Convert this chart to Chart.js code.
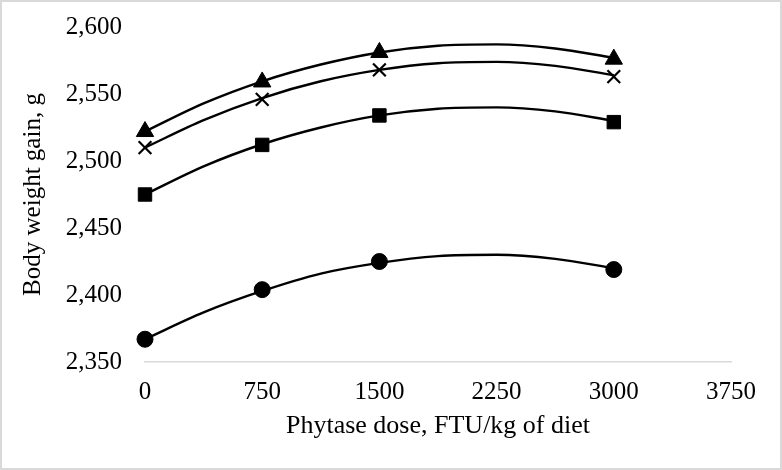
<!DOCTYPE html>
<html>
<head>
<meta charset="utf-8">
<script src="https://cdn.jsdelivr.net/npm/chart.js@4"></script>
<style>
  html, body { margin: 0; padding: 0; background: #fff; }
  canvas { display: block; }
</style>
</head>
<body>
<canvas id="chart" width="782" height="470"></canvas>
<script>
// measured points
const doses = [0, 750, 1500, 3000];
const circleGain = [2367, 2404, 2425, 2419];
const squareGain = [2475, 2512, 2534, 2529];
const crossGain = [2510, 2546, 2568, 2563];
const triangleGain = [2522, 2559, 2581, 2576];

// trend curves
const fitDoses = [0, 375, 750, 1125, 1500, 1875, 2250, 2625, 3000];
const circleFit = [2367, 2387, 2403, 2416, 2424, 2429, 2430, 2427, 2420];
const squareFit = [2475, 2496, 2512.5, 2525, 2534, 2539, 2540, 2537, 2530];
const crossFit = [2510, 2530.5, 2547, 2559.5, 2568, 2573, 2574, 2571, 2564];
const triangleFit = [2522, 2543, 2559.5, 2572, 2581, 2586, 2587, 2584, 2577];

const xTicks = [0, 750, 1500, 2250, 3000, 3750];
const yTicks = [2350, 2400, 2450, 2500, 2550, 2600];

const toPoints = (xs, ys) => xs.map((x, i) => ({ x: x, y: ys[i] }));

const markerSet = (values, style, radius) => ({
  data: toPoints(doses, values),
  showLine: false,
  clip: false,
  pointStyle: style,
  pointRadius: radius,
  pointHoverRadius: radius,
  backgroundColor: "#000",
  borderColor: "#000",
  pointBorderWidth: style === "crossRot" ? 2.2 : 1,
});

const curveSet = (values) => ({
  data: toPoints(fitDoses, values),
  showLine: true,
  clip: false,
  pointRadius: 0,
  borderColor: "#000",
  borderWidth: 2.4,
  cubicInterpolationMode: "monotone",
  fill: false,
});

const frame = {
  id: "frame",
  beforeDraw(chart) {
    const ctx = chart.ctx;
    ctx.save();
    ctx.fillStyle = "#fff";
    ctx.fillRect(0, 0, chart.width, chart.height);
    ctx.strokeStyle = "#d9d9d9";
    ctx.lineWidth = 2;
    ctx.strokeRect(1, 1, chart.width - 2, chart.height - 2);
    ctx.restore();
  },
};

const serif = "'Liberation Serif', 'Times New Roman', serif";
const tickFont = { family: serif, size: 25 };

new Chart(document.getElementById("chart"), {
  type: "scatter",
  data: {
    datasets: [
      markerSet(circleGain, "circle", 8),
      markerSet(squareGain, "rect", 9.5),
      markerSet(crossGain, "crossRot", 9),
      markerSet(triangleGain, "triangle", 10),
      curveSet(circleFit),
      curveSet(squareFit),
      curveSet(crossFit),
      curveSet(triangleFit),
    ],
  },
  options: {
    responsive: false,
    animation: false,
    layout: { padding: { left: 0, right: 51, top: 27, bottom: 0 } },
    plugins: {
      legend: { display: false },
      tooltip: { enabled: false },
    },
    scales: {
      x: {
        type: "linear",
        min: 0,
        max: 3750,
        afterBuildTicks: (scale) => {
          scale.ticks = xTicks.map((v) => ({ value: v }));
        },
        afterFit: (scale) => {
          scale.height = 108;
          scale.paddingLeft = 0;
          scale.paddingRight = 0;
        },
        grid: { display: false, drawTicks: false },
        border: { display: true, color: "#d9d9d9", width: 1.5 },
        ticks: {
          color: "#000",
          font: tickFont,
          padding: 15,
          maxRotation: 0,
          callback: (v) => String(v),
        },
        title: {
          display: true,
          text: "Phytase dose, FTU/kg of diet",
          color: "#000",
          font: { family: serif, size: 26 },
          padding: { top: 4, bottom: 28 },
        },
      },
      y: {
        type: "linear",
        min: 2350,
        max: 2600,
        afterBuildTicks: (scale) => {
          scale.ticks = yTicks.map((v) => ({ value: v }));
        },
        afterFit: (scale) => {
          scale.width = 145;
          scale.paddingTop = 0;
          scale.paddingBottom = 0;
        },
        grid: { display: false, drawTicks: false },
        border: { display: false },
        ticks: {
          color: "#000",
          font: tickFont,
          padding: 23,
          callback: (v) => v.toLocaleString("en-US"),
        },
        title: {
          display: true,
          text: "Body weight gain, g",
          color: "#000",
          font: { family: serif, size: 25 },
          padding: { top: 18, bottom: 4 },
        },
      },
    },
  },
  plugins: [frame],
});
</script>
</body>
</html>
